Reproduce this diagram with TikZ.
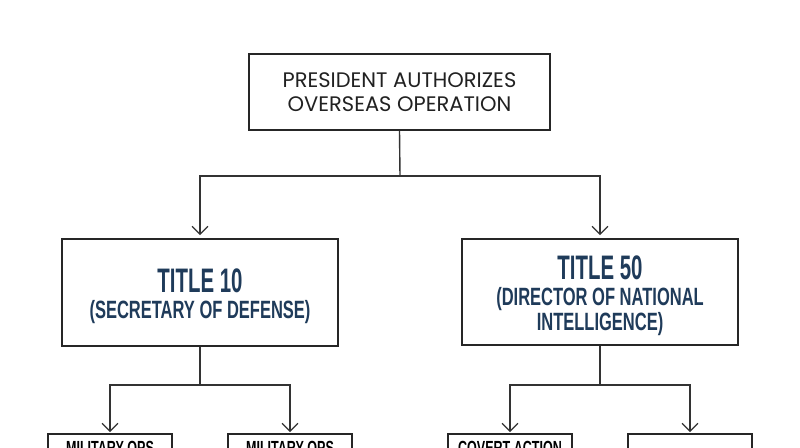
\documentclass[tikz,border=0pt]{standalone}
\usepackage{fontspec}
\setmainfont{Poppins}
\newfontfamily\condfont[FakeStretch=0.66]{Liberation Sans}
\newfontfamily\condtitle[FakeStretch=0.6]{Liberation Sans}
\usetikzlibrary{arrows.meta}
\definecolor{navy}{HTML}{1F3B5A}
\definecolor{boxline}{HTML}{262626}
\definecolor{connline}{HTML}{333333}
\begin{document}
\begin{tikzpicture}[x=1pt,y=-1pt,
  box/.style={draw=boxline, line width=1.6pt, rectangle, inner sep=0pt, align=center},
  conn/.style={draw=connline, line width=1.4pt},
  arr/.style={conn, -{Straight Barb[length=8pt,width=16pt,line width=1.3pt]}, shorten >=3pt},
  titlefont/.style={font=\condfont\bfseries\fontsize{25}{25}\selectfont, text=navy, align=center, inner sep=0pt},
  leaffont/.style={font=\condfont\bfseries\fontsize{19}{20}\selectfont, text=black}]
\useasboundingbox[fill=white] (0,0) rectangle (800,447);
\node[box, minimum width=301pt, minimum height=76pt, text=black!87,
      font=\fontsize{21}{24}\selectfont] (top) at (399.5,92)
      {PRESIDENT AUTHORIZES\\OVERSEAS OPERATION};
\node[box, minimum width=276pt, minimum height=107pt] (t10) at (200,292.5) {};
\node[titlefont] (t10text) at ([yshift=-3.5pt]t10.center)
      {{\condtitle\bfseries\fontsize{34}{34}\selectfont TITLE 10}\\[1.5pt](SECRETARY OF DEFENSE)};
\node[box, minimum width=276pt, minimum height=106pt] (t50) at (600,292) {};
\node[titlefont] (t50text) at ([yshift=-3.5pt]t50.center)
      {{\condtitle\bfseries\fontsize{34}{34}\selectfont TITLE 50}\\[1.5pt](DIRECTOR OF NATIONAL\\INTELLIGENCE)};
\node[box, leaffont, minimum width=124pt, minimum height=28pt] (m1) at (110,448) {MILITARY OPS};
\node[box, leaffont, minimum width=124pt, minimum height=28pt] (m2) at (290,448) {MILITARY OPS};
\node[box, leaffont, minimum width=124pt, minimum height=28pt] (c1) at (510,448) {COVERT ACTION};
\node[box, leaffont, minimum width=124pt, minimum height=28pt] (c2) at (690,448) {};
\coordinate (j0) at (400,176);
\coordinate (jl) at (200,385);
\coordinate (jr) at (600,385);
\draw[conn] (top.south) -- (j0);
\draw[arr] (j0) -| (t10.north);
\draw[arr] (j0) -| (t50.north);
\draw[conn] (t10.south) -- (jl);
\draw[arr] (jl) -| ([yshift=-2pt]m1.north);
\draw[arr] (jl) -| ([yshift=-2pt]m2.north);
\draw[conn] (t50.south) -- (jr);
\draw[arr] (jr) -| ([yshift=-2pt]c1.north);
\draw[arr] (jr) -| ([yshift=-2pt]c2.north);
\end{tikzpicture}
\end{document}
